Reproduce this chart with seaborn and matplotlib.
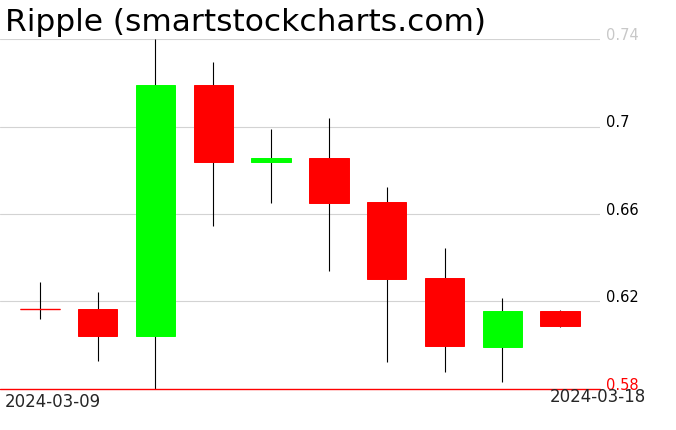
import matplotlib
matplotlib.use("Agg")
import matplotlib.pyplot as plt
import seaborn as sns
import numpy as np

# Daily Ripple candles
dates = ["2024-03-09", "2024-03-10", "2024-03-11", "2024-03-12", "2024-03-13",
         "2024-03-14", "2024-03-15", "2024-03-16", "2024-03-17", "2024-03-18"]
opens = [0.6164, 0.6166, 0.6044, 0.7190, 0.6839, 0.6856, 0.6655, 0.6307, 0.5993, 0.6157]
closes = [0.6164, 0.6044, 0.7190, 0.6839, 0.6855, 0.6652, 0.6304, 0.5998, 0.6157, 0.6089]
highs = [0.6288, 0.6243, 0.7400, 0.7293, 0.6989, 0.7039, 0.6723, 0.6445, 0.6215, 0.6161]
lows = [0.6121, 0.5929, 0.5800, 0.6547, 0.6649, 0.6341, 0.5925, 0.5879, 0.5833, 0.6085]
yticks = [0.58, 0.62, 0.66, 0.70, 0.74]
ytick_labels = ["0.58", "0.62", "0.66", "0.7", "0.74"]
ytick_colors = ["#ff0000", "black", "black", "black", "#c8c8c8"]

sns.set_theme(style="white")
plt.rcParams['font.family'] = ['DejaVu Sans']

W, H = 676, 431
fig = plt.figure(figsize=(W / 100, H / 100), dpi=100)
ax = fig.add_axes([0, (H - 390) / H, 600 / W, 350 / H])

x = np.arange(len(dates))
o = np.array(opens)
c = np.array(closes)
colors = np.where(c > o, "#00ff00", "#ff0000")
body_w = 0.68

# grid lines
for t in yticks[1:]:
    ax.axhline(t, color="#d3d3d3", lw=0.8, zorder=0)
ax.axhline(yticks[0], color="#ff0000", lw=1.0, zorder=3, clip_on=False)

# wicks
ax.vlines(x, lows, highs, color="black", lw=0.8, zorder=1)

# bodies
bottoms = np.minimum(o, c)
heights = np.abs(c - o)
ax.bar(x, heights, bottom=bottoms, width=body_w, color=colors,
       edgecolor=colors, linewidth=0.7, zorder=2)
# flat candles (open == close) drawn as a single line
flat = heights == 0
ax.hlines(o[flat], x[flat] - body_w / 2, x[flat] + body_w / 2,
          color=colors[flat], lw=1.0, zorder=2)

ax.set_xlim(-0.69, 9.69)
ax.set_ylim(0.58, 0.74)
ax.set_xticks([])
ax.yaxis.tick_right()
ax.set_yticks(yticks)
ax.set_yticklabels(ytick_labels, fontsize=10.5)
for lbl, col in zip(ax.get_yticklabels(), ytick_colors):
    lbl.set_color(col)
    lbl.set_verticalalignment("baseline")
ax.tick_params(axis="y", length=0, pad=4)
for s in ax.spines.values():
    s.set_visible(False)
ax.set_facecolor("white")

fig.text(5 / W, 1 - 8 / H, "Ripple (smartstockcharts.com)", fontsize=22.5,
         ha="left", va="top", color="black")
fig.text(5 / W, 1 - 393 / H, dates[0], fontsize=12, ha="left", va="top")
fig.text(646 / W, 1 - 388 / H, dates[-1], fontsize=12, ha="right", va="top")

fig.savefig("out.png", dpi=100, facecolor="white")
